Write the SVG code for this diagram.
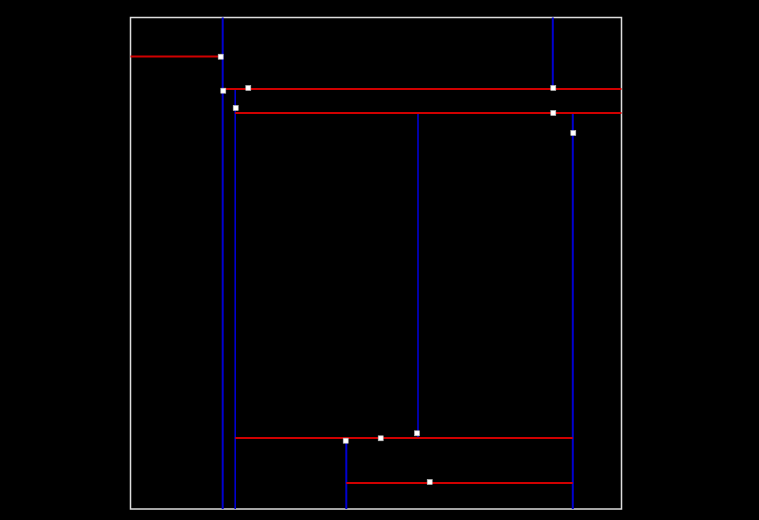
<svg xmlns="http://www.w3.org/2000/svg" width="759" height="520" viewBox="0 0 759 520">
<style>
.v{stroke:#0000d0;fill:none}
.h{stroke:#d00000;stroke-width:1.8;fill:none}
.p{fill:#ffffff;stroke:#bbbbbb;stroke-width:0.6}
</style>
<rect width="759" height="520" fill="#000000"/>
<rect id="frame" x="130.5" y="17.5" width="491" height="491.5" fill="none" stroke="#dddddd" stroke-width="1.5"/>
<g id="connectors">
<line class="v" x1="222.7" y1="17.5" x2="222.7" y2="509" stroke-width="2"/>
<line class="v" x1="235.2" y1="89" x2="235.2" y2="509" stroke-width="1.6"/>
<line class="v" x1="552.8" y1="17.5" x2="552.8" y2="88" stroke-width="2"/>
<line class="v" x1="572.8" y1="113" x2="572.8" y2="509" stroke-width="2"/>
<line class="v" x1="418" y1="113" x2="418" y2="438" stroke-width="1.6"/>
<line class="v" x1="346.3" y1="440" x2="346.3" y2="509" stroke-width="2"/>
<line class="h" x1="130.5" y1="56.5" x2="221" y2="56.5"/>
<line class="h" x1="223.3" y1="89" x2="621.5" y2="89"/>
<line class="h" x1="235.2" y1="113" x2="621.5" y2="113"/>
<line class="h" x1="235.2" y1="438" x2="572.8" y2="438"/>
<line class="h" x1="346.3" y1="483" x2="572.8" y2="483"/>
</g>
<g id="points">
<rect class="p" x="218.2" y="54.2" width="5" height="5"/>
<rect class="p" x="220.8" y="88.2" width="5" height="5"/>
<rect class="p" x="245.8" y="85.5" width="5" height="5"/>
<rect class="p" x="233.2" y="105.5" width="5" height="5"/>
<rect class="p" x="550.8" y="85.5" width="5" height="5"/>
<rect class="p" x="550.8" y="110.5" width="5" height="5"/>
<rect class="p" x="570.8" y="130.5" width="5" height="5"/>
<rect class="p" x="343.2" y="438.2" width="5" height="5"/>
<rect class="p" x="378.2" y="435.8" width="5" height="5"/>
<rect class="p" x="414.5" y="430.8" width="5" height="5"/>
<rect class="p" x="427.2" y="479.5" width="5" height="5"/>
</g>
</svg>
